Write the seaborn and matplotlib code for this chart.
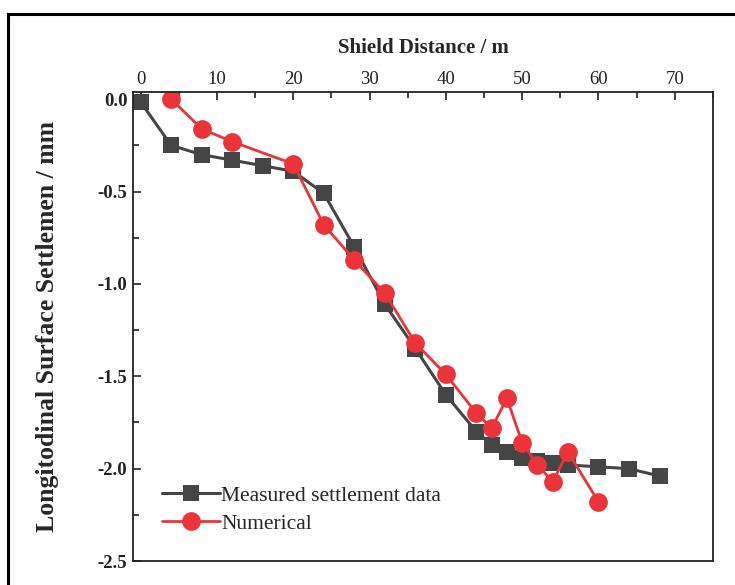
import numpy as np
import pandas as pd
import matplotlib.pyplot as plt
import matplotlib.patches as mpatches
from matplotlib.ticker import MultipleLocator
import seaborn as sns

# measured settlement (grey squares)
meas_x = [0, 4, 8, 12, 16, 20, 24, 28, 32, 36, 40, 44, 46, 48, 50, 52, 54, 56, 60, 64, 68]
meas_y = [-0.015, -0.25, -0.30, -0.33, -0.36, -0.39, -0.51, -0.80, -1.11, -1.35, -1.60,
          -1.80, -1.87, -1.91, -1.94, -1.96, -1.97, -1.98, -1.99, -2.00, -2.04]

# numerical results (red circles)
num_x = [4, 8, 12, 20, 24, 28, 32, 36, 40, 44, 46, 48, 50, 52, 54, 56, 60]
num_y = [0.0, -0.16, -0.23, -0.35, -0.68, -0.87, -1.05, -1.32, -1.49, -1.70, -1.78,
         -1.62, -1.86, -1.98, -2.07, -1.91, -2.18]

meas_df = pd.DataFrame({"x": meas_x, "y": meas_y})
num_df = pd.DataFrame({"x": num_x, "y": num_y})

sns.set_theme(style="ticks")
plt.rcParams["font.family"] = ["Liberation Serif", "DejaVu Serif"]
plt.rcParams["axes.unicode_minus"] = False

fig = plt.figure(figsize=(7.35, 5.85), dpi=100)
ax = fig.add_axes([0.181, 0.041, 0.789, 0.802])

grey = "#454545"
red = "#ec3339"

sns.lineplot(data=meas_df, x="x", y="y", ax=ax, color=grey, marker="s", markersize=11.5,
             markeredgewidth=0, linewidth=2.2, label="Measured settlement data", sort=False)
sns.lineplot(data=num_df, x="x", y="y", ax=ax, color=red, marker="o", markersize=13.5,
             markeredgewidth=0, linewidth=2, label="Numerical", sort=False)

ax.set_xlim(-1, 75)
ax.set_ylim(-2.5, 0.04)
ax.xaxis.set_major_locator(MultipleLocator(10))
ax.xaxis.set_minor_locator(MultipleLocator(5))
ax.yaxis.set_major_locator(MultipleLocator(0.5))
ax.yaxis.set_minor_locator(MultipleLocator(0.25))
ax.set_yticks([0.0, -0.5, -1.0, -1.5, -2.0, -2.5])
ax.set_yticklabels(["0.0", "-0.5", "-1.0", "-1.5", "-2.0", "-2.5"])

ax.xaxis.tick_top()
ax.xaxis.set_label_position("top")
ax.tick_params(axis="x", which="both", direction="in", top=True, bottom=False,
               labelsize=13.5, pad=3, colors="#222222")
ax.tick_params(axis="y", which="both", direction="in", left=True, right=False,
               labelsize=13.5, pad=4, colors="#222222")
ax.tick_params(which="major", length=6, width=1.2)
ax.tick_params(which="minor", length=4, width=1.2)
for lab in ax.get_yticklabels():
    lab.set_fontweight("bold")

for sp in ax.spines.values():
    sp.set_linewidth(1.3)
    sp.set_color("#222222")

ax.set_xlabel("Shield Distance / m", fontsize=15, fontweight="bold", labelpad=13)
ax.set_ylabel("Longitodinal Surface Settlemen / mm", fontsize=18.5, fontweight="bold",
              labelpad=28)

ax.legend(loc="lower left", bbox_to_anchor=(0.035, 0.04), frameon=False, fontsize=15.5,
          handlelength=2.7, handletextpad=0.05, borderaxespad=0.0, labelspacing=0.35)

# outer frame around the figure
frame = mpatches.Rectangle((8 / 735, -0.2), 1.2, 1.2 - 14 / 585, transform=fig.transFigure,
                           fill=False, edgecolor="black", linewidth=2.2, clip_on=False)
fig.patches.append(frame)

plt.savefig("out.png", dpi=100)
plt.close()
